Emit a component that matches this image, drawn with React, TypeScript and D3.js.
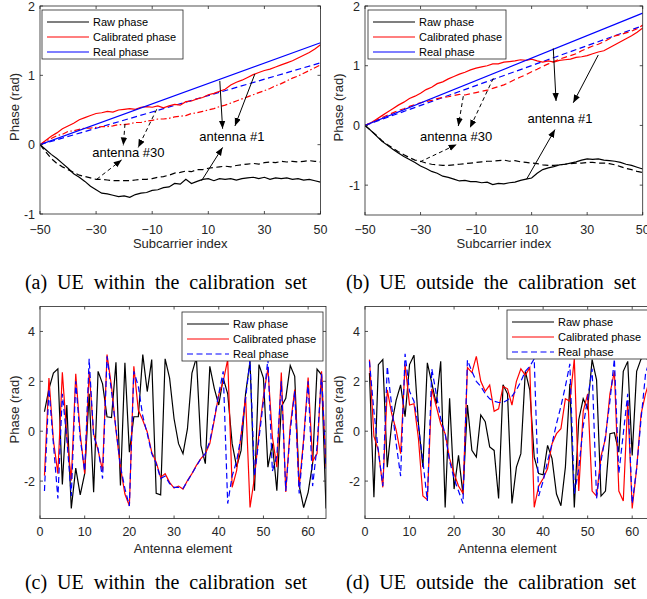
import React, { useEffect, useRef } from 'react';
import * as d3 from 'd3';

// subcarrier index (step 2) and antenna element index
const SUBCARRIERS = d3.range(-50, 51, 2);
const ELEMENTS = d3.range(1, 65);
const REAL_X = [-50, 50];

const SUB_TICKS = [-50, -30, -10, 10, 30, 50];
const ELEM_TICKS = [0, 10, 20, 30, 40, 50, 60];

// (a) UE within the calibration set, phase vs subcarrier
const A_RAW_1 = [0, -0.07, -0.14, -0.2, -0.27, -0.34, -0.42, -0.47, -0.53, -0.6, -0.65, -0.7, -0.71, -0.73, -0.75, -0.74, -0.76, -0.72, -0.7, -0.69, -0.66, -0.65, -0.62, -0.61, -0.56, -0.57, -0.5, -0.56, -0.53, -0.5, -0.49, -0.52, -0.49, -0.5, -0.49, -0.51, -0.49, -0.48, -0.47, -0.49, -0.47, -0.5, -0.48, -0.49, -0.48, -0.5, -0.49, -0.51, -0.5, -0.52, -0.54];
const A_RAW_30 = [0, -0.1, -0.2, -0.27, -0.32, -0.36, -0.4, -0.44, -0.46, -0.48, -0.5, -0.5, -0.51, -0.52, -0.52, -0.52, -0.52, -0.51, -0.5, -0.5, -0.49, -0.47, -0.46, -0.44, -0.41, -0.4, -0.38, -0.39, -0.36, -0.36, -0.34, -0.33, -0.32, -0.31, -0.32, -0.3, -0.29, -0.28, -0.27, -0.28, -0.26, -0.25, -0.26, -0.24, -0.25, -0.24, -0.25, -0.24, -0.23, -0.24, -0.25];
const A_CAL_1 = [0, 0.06, 0.12, 0.17, 0.23, 0.27, 0.31, 0.36, 0.39, 0.42, 0.45, 0.46, 0.48, 0.47, 0.5, 0.51, 0.52, 0.51, 0.54, 0.55, 0.54, 0.56, 0.53, 0.56, 0.58, 0.57, 0.62, 0.63, 0.66, 0.68, 0.72, 0.74, 0.77, 0.8, 0.86, 0.9, 0.93, 0.97, 1.01, 1.04, 1.07, 1.09, 1.12, 1.15, 1.18, 1.21, 1.25, 1.29, 1.33, 1.38, 1.44];
const A_CAL_30 = [0, 0.05, 0.09, 0.13, 0.15, 0.19, 0.2, 0.22, 0.24, 0.24, 0.25, 0.26, 0.26, 0.27, 0.29, 0.29, 0.3, 0.32, 0.32, 0.34, 0.35, 0.37, 0.37, 0.38, 0.4, 0.41, 0.42, 0.45, 0.46, 0.48, 0.5, 0.52, 0.55, 0.57, 0.6, 0.63, 0.66, 0.69, 0.72, 0.75, 0.78, 0.81, 0.85, 0.88, 0.92, 0.96, 0.99, 1.03, 1.07, 1.11, 1.15];
const A_REAL_1 = [0, 1.47];
const A_REAL_30 = [0, 1.18];

// (b) UE outside the calibration set, phase vs subcarrier
const B_RAW_1 = [0, -0.08, -0.17, -0.26, -0.33, -0.4, -0.46, -0.52, -0.57, -0.62, -0.68, -0.72, -0.77, -0.8, -0.85, -0.87, -0.9, -0.93, -0.92, -0.94, -0.94, -0.96, -0.95, -0.99, -0.97, -0.98, -0.96, -0.95, -0.92, -0.9, -0.88, -0.8, -0.74, -0.71, -0.69, -0.66, -0.65, -0.63, -0.61, -0.58, -0.56, -0.57, -0.56, -0.58, -0.59, -0.6, -0.62, -0.65, -0.67, -0.7, -0.73];
const B_RAW_30 = [0, -0.08, -0.16, -0.25, -0.32, -0.38, -0.44, -0.49, -0.54, -0.58, -0.6, -0.63, -0.65, -0.66, -0.67, -0.67, -0.66, -0.65, -0.64, -0.63, -0.62, -0.61, -0.6, -0.6, -0.59, -0.58, -0.6, -0.59, -0.61, -0.62, -0.63, -0.64, -0.66, -0.67, -0.67, -0.66, -0.65, -0.64, -0.63, -0.63, -0.62, -0.62, -0.63, -0.63, -0.64, -0.66, -0.69, -0.72, -0.74, -0.77, -0.79];
const B_CAL_1 = [0, 0.04, 0.1, 0.16, 0.22, 0.28, 0.34, 0.39, 0.45, 0.49, 0.54, 0.6, 0.64, 0.7, 0.73, 0.78, 0.82, 0.86, 0.89, 0.93, 0.96, 0.98, 1.0, 1.03, 1.03, 1.06, 1.07, 1.08, 1.1, 1.09, 1.11, 1.08, 1.06, 1.08, 1.06, 1.09, 1.1, 1.11, 1.14, 1.15, 1.17, 1.2, 1.23, 1.25, 1.3, 1.35, 1.4, 1.45, 1.5, 1.56, 1.63];
const B_CAL_30 = [0, 0.04, 0.08, 0.13, 0.17, 0.21, 0.25, 0.28, 0.32, 0.35, 0.38, 0.4, 0.42, 0.45, 0.47, 0.48, 0.5, 0.52, 0.51, 0.53, 0.55, 0.57, 0.59, 0.62, 0.65, 0.68, 0.72, 0.77, 0.81, 0.85, 0.9, 0.94, 0.99, 1.03, 1.07, 1.11, 1.14, 1.17, 1.2, 1.25, 1.29, 1.33, 1.36, 1.4, 1.45, 1.5, 1.52, 1.55, 1.58, 1.62, 1.68];
const B_REAL_1 = [0, 1.88];
const B_REAL_30 = [0, 1.67];

// (c) UE within the calibration set, phase vs antenna element
const C_RAW = [0.78, 1.7, 2.33, 2.5, -2.14, 1.05, -3.1, -1.48, -2.55, -1.7, 1.5, -2.45, 2.4, 1.9, 0.58, 0.55, 2.76, -2.18, 2.74, -0.84, 0.58, 0.58, 3.07, 1.59, 2.87, -2.49, -2.55, 2.9, 2.13, 0.5, -0.5, -0.9, 0.1, 2.33, 2.95, -0.57, -1.3, 2.6, 1.72, 1.05, 2.13, 1.5, -0.5, -1.43, -0.77, 1.5, 2.8, -2.39, 2.67, 2.13, -1.44, -0.5, -2.39, 0.98, 1.32, 2.63, 2.2, -2.18, -3.06, -2.45, -1.3, 2.49, 2.26, -3.1];
const C_CAL = [-1.78, 2.13, -0.36, -1.7, 2.36, -0.16, -1.98, 2.3, -0.1, -1.7, 2.4, -0.1, -0.77, -1.58, 3.07, 1.8, 0.04, -1.44, -2.52, -2.99, 2.6, 0.85, 0.44, -0.03, -0.84, -1.24, -1.85, -1.7, -2.05, -2.28, -2.2, -2.32, -1.98, -1.7, -1.37, -1.1, -0.9, -0.5, 0.44, 1.46, 2.0, 2.87, -2.25, -1.58, -0.16, 1.39, -3.06, -1.85, -0.1, 1.39, 2.53, -0.23, -1.44, 2.35, -2.44, 0.2, 1.67, -2.25, -0.3, 2.15, -1.2, -0.9, 2.4, -1.44];
const C_REAL = [-2.4, 1.7, -0.5, -2.7, 1.5, -0.3, -2.6, 2.0, -0.3, -1.6, 2.9, -0.2, -0.7, -1.9, 3.0, 1.6, 0.1, -1.4, -2.3, -3.0, 2.4, 1.8, 0.6, -0.1, -0.9, -1.3, -1.9, -1.8, -2.1, -2.25, -2.25, -2.3, -2.0, -1.7, -1.4, -1.1, -0.9, -0.4, 0.5, 1.5, 2.4, -2.9, -1.8, -1.2, -0.2, 1.3, 2.85, -1.8, -0.3, 1.2, 2.9, -1.6, -1.0, 2.0, -2.4, 0.0, 1.6, -2.5, -0.4, 2.0, -2.2, -0.6, 2.3, -1.5];

// (d) UE outside the calibration set, phase vs antenna element
const D_RAW = [2.33, -2.65, 2.67, 2.87, -1.44, 0.3, 1.25, 1.86, 0.58, 2.67, 3.05, 0.3, -1.44, 2.74, 1.93, 1.1, 2.8, -3.06, 1.32, -2.32, -0.97, -2.52, 1.05, -0.77, -1.04, 0.65, 0.38, -0.63, -0.77, -2.7, 1.86, 1.5, -2.9, -1.44, -0.9, 2.4, 1.66, -1.04, -1.7, -1.75, -0.57, -1.1, -2.52, -2.99, -1.44, 1.9, -3.06, 0.46, 1.3, 0.9, 2.87, 2.06, -2.6, -2.4, -0.1, -0.06, -0.84, 2.4, 2.8, -0.97, 2.4, 2.9, 3.0, 2.7];
const D_CAL = [2.87, -0.2, -0.77, -2.25, 1.66, 0.7, 0.04, -0.9, 2.68, 1.05, 1.1, -0.3, -2.6, -2.75, 1.7, 1.0, 0.3, -0.1, -1.1, -1.7, -2.2, -2.5, 2.55, 2.35, 3.0, 2.0, 1.6, 1.85, 0.8, 0.9, 1.8, 1.7, 1.05, 2.0, 2.5, 2.25, 2.55, -3.05, -2.2, -1.9, -1.5, -0.5, -0.1, 0.1, 1.3, 1.2, 2.9, -2.4, 0.8, 1.5, -2.4, -2.6, -1.0, -0.3, 1.5, 2.4, -2.4, -2.8, 1.2, -3.1, -1.5, 0.7, 1.5, 2.1];
const D_REAL = [2.8, 0.8, -0.8, -2.2, 2.6, 1.0, -0.5, -1.8, 3.1, 1.6, 1.2, 0.2, -1.2, -2.8, 2.5, 1.5, 0.5, -0.1, -1.2, -1.9, -2.4, -2.9, 2.85, 2.4, 2.0, 1.8, 1.5, 1.3, 1.2, 1.15, 1.15, 1.25, 1.4, 1.65, 2.0, 2.4, 2.6, 2.9, -2.6, -2.0, -1.2, -0.5, 0.3, 1.0, 1.8, 2.7, -2.5, -1.5, 0.2, 1.3, 2.5, -2.7, -1.2, -0.2, 1.2, 2.9, -1.7, -0.1, 1.5, -2.9, -1.5, 0.5, 2.3, 2.9];

// annotation arrows [x0, y0, x1, y1] in data units
const A_ARROWS_1 = [[14.1, 0.92, 15.1, 0.23], [26.6, 1.02, 19.5, 0.27], [7.6, -0.52, 15.1, -0.04]];
const A_ARROWS_30 = [[-19.7, 0.3, -20.3, -0.01], [-8.4, 0.51, -15, -0.04], [-29.8, -0.5, -20.9, -0.22]];
const B_ARROWS_1 = [[17.8, 1.29, 18.8, 0.41], [34, 1.18, 25, 0.38], [8.2, -0.9, 18.4, -0.07]];
const B_ARROWS_30 = [[-14.6, 0.49, -16.4, -0.01], [-3.8, 0.79, -12.2, -0.04], [-30.2, -0.61, -17, -0.32]];

const LEGEND_LABELS = ['Raw phase', 'Calibrated phase', 'Real phase'];
const CAPTIONS = [
  '(a) UE within the calibration set',
  '(b) UE outside the calibration set',
  '(c) UE within the calibration set',
  '(d) UE outside the calibration set',
];

const BLACK = '#000000';
const RED = '#ff0000';
const BLUE = '#0000ff';
const AXIS = '#262626';
const SANS = '"Liberation Sans", Arial, Helvetica, sans-serif';
const SERIF = '"Liberation Serif", "Times New Roman", serif';
const DASH = '6,3.5';
const DASHDOT = '6,2.5,1.5,2.5';

function drawPanel(svg, p, idx) {
  const x = d3.scaleLinear().domain(p.xDomain).range([p.left, p.right]);
  const y = d3.scaleLinear().domain(p.yDomain).range([p.bottom, p.top]);
  const g = svg.append('g');
  const clipId = `clip-${idx}`;
  g.append('clipPath').attr('id', clipId).append('rect')
    .attr('x', p.left).attr('y', p.top)
    .attr('width', p.right - p.left).attr('height', p.bottom - p.top);

  const line = d3.line().x((d) => x(d[0])).y((d) => y(d[1]));
  const plot = g.append('g').attr('clip-path', `url(#${clipId})`);
  p.series.forEach((s) => {
    plot.append('path')
      .datum(s.values.map((v, i) => [s.xs[i], v]))
      .attr('d', line)
      .attr('fill', 'none')
      .attr('stroke', s.color)
      .attr('stroke-width', 1.2)
      .attr('stroke-dasharray', s.dash || null);
  });

  // box + inward ticks on all four sides
  g.append('rect')
    .attr('x', p.left).attr('y', p.top)
    .attr('width', p.right - p.left).attr('height', p.bottom - p.top)
    .attr('fill', 'none').attr('stroke', AXIS).attr('stroke-width', 0.8);
  const tl = 3;
  p.xTicks.forEach((t) => {
    const px = x(t);
    g.append('line').attr('x1', px).attr('x2', px).attr('y1', p.bottom).attr('y2', p.bottom - tl).attr('stroke', AXIS).attr('stroke-width', 0.8);
    g.append('line').attr('x1', px).attr('x2', px).attr('y1', p.top).attr('y2', p.top + tl).attr('stroke', AXIS).attr('stroke-width', 0.8);
    g.append('text').attr('x', px).attr('y', p.bottom + p.tickGap)
      .attr('text-anchor', 'middle').attr('font-family', SANS).attr('font-size', 12.5)
      .attr('fill', AXIS).text(d3.format('d')(t));
  });
  p.yTicks.forEach((t) => {
    const py = y(t);
    g.append('line').attr('x1', p.left).attr('x2', p.left + tl).attr('y1', py).attr('y2', py).attr('stroke', AXIS).attr('stroke-width', 0.8);
    g.append('line').attr('x1', p.right).attr('x2', p.right - tl).attr('y1', py).attr('y2', py).attr('stroke', AXIS).attr('stroke-width', 0.8);
    g.append('text').attr('x', p.left - 5).attr('y', py + 4.5)
      .attr('text-anchor', 'end').attr('font-family', SANS).attr('font-size', 12.5)
      .attr('fill', AXIS).text(String(t));
  });

  g.append('text')
    .attr('x', (p.left + p.right) / 2).attr('y', p.bottom + p.labelGap)
    .attr('text-anchor', 'middle').attr('font-family', SANS).attr('font-size', 13)
    .attr('fill', AXIS).text(p.xLabel);
  g.append('text')
    .attr('transform', `translate(${p.yLabelX},${(p.top + p.bottom) / 2 - 3}) rotate(-90)`)
    .attr('text-anchor', 'middle').attr('font-family', SANS).attr('font-size', 13)
    .attr('fill', AXIS).text('Phase (rad)');

  // annotations
  (p.notes || []).forEach((n) => {
    n.arrows.forEach((a) => {
      g.append('line')
        .attr('x1', x(a[0])).attr('y1', y(a[1]))
        .attr('x2', x(a[2])).attr('y2', y(a[3]))
        .attr('stroke', BLACK).attr('stroke-width', 1)
        .attr('stroke-dasharray', n.dash || null)
        .attr('marker-end', 'url(#arrowhead)');
    });
    g.append('text')
      .attr('x', x(n.x)).attr('y', y(n.y) + 5)
      .attr('text-anchor', 'middle').attr('font-family', SANS).attr('font-size', 13)
      .attr('fill', BLACK).text(n.text);
  });

  // legend
  const L = p.legend;
  const lg = g.append('g').attr('transform', `translate(${L.x},${L.y})`);
  lg.append('rect').attr('width', L.w).attr('height', 49)
    .attr('fill', '#ffffff').attr('stroke', AXIS).attr('stroke-width', 0.8);
  L.styles.forEach((st, i) => {
    const ly = 12 + i * 15;
    lg.append('line').attr('x1', 5).attr('x2', 47).attr('y1', ly).attr('y2', ly)
      .attr('stroke', st.color).attr('stroke-width', 1.2)
      .attr('stroke-dasharray', st.dash || null);
    lg.append('text').attr('x', 51).attr('y', ly + 4)
      .attr('font-family', SANS).attr('font-size', 11).attr('fill', BLACK)
      .text(LEGEND_LABELS[i]);
  });
}

export default function App() {
  const ref = useRef(null);

  useEffect(() => {
    const el = ref.current;
    d3.select(el).selectAll('*').remove();
    const svg = d3.select(el).append('svg')
      .attr('width', 647).attr('height', 599)
      .style('display', 'block').style('background', '#ffffff');

    svg.append('defs').append('marker')
      .attr('id', 'arrowhead').attr('viewBox', '0 0 10 10')
      .attr('refX', 10).attr('refY', 5)
      .attr('markerWidth', 8).attr('markerHeight', 8)
      .attr('markerUnits', 'userSpaceOnUse')
      .attr('orient', 'auto')
      .append('path').attr('d', 'M0,1 L10,5 L0,9 Z').attr('fill', BLACK);

    const topLegend = [{ color: BLACK }, { color: RED }, { color: BLUE }];
    const lowLegend = [{ color: BLACK }, { color: RED }, { color: BLUE, dash: DASH }];

    const panels = [
      {
        left: 40, right: 320.5, top: 6, bottom: 214,
        xDomain: [-50, 50], yDomain: [-1, 2],
        xTicks: SUB_TICKS, yTicks: [-1, 0, 1, 2],
        xLabel: 'Subcarrier index', yLabelX: 19, tickGap: 20, labelGap: 34,
        series: [
          { xs: REAL_X, values: A_REAL_30, color: BLUE, dash: DASH },
          { xs: SUBCARRIERS, values: A_CAL_30, color: RED, dash: DASHDOT },
          { xs: SUBCARRIERS, values: A_RAW_30, color: BLACK, dash: DASH },
          { xs: SUBCARRIERS, values: A_RAW_1, color: BLACK },
          { xs: SUBCARRIERS, values: A_CAL_1, color: RED },
          { xs: REAL_X, values: A_REAL_1, color: BLUE },
        ],
        notes: [
          { text: 'antenna #1', x: 18.4, y: 0.13, arrows: A_ARROWS_1 },
          { text: 'antenna #30', x: -18.5, y: -0.11, arrows: A_ARROWS_30, dash: '4,3' },
        ],
        legend: { x: 42, y: 10, w: 141, styles: topLegend },
      },
      {
        left: 365, right: 642.7, top: 6, bottom: 215,
        xDomain: [-50, 50], yDomain: [-1.5, 2],
        xTicks: SUB_TICKS, yTicks: [-1, 0, 1, 2],
        xLabel: 'Subcarrier index', yLabelX: 343, tickGap: 19, labelGap: 33,
        series: [
          { xs: REAL_X, values: B_REAL_30, color: BLUE, dash: DASH },
          { xs: SUBCARRIERS, values: B_CAL_30, color: RED, dash: DASH },
          { xs: SUBCARRIERS, values: B_RAW_30, color: BLACK, dash: DASH },
          { xs: SUBCARRIERS, values: B_RAW_1, color: BLACK },
          { xs: SUBCARRIERS, values: B_CAL_1, color: RED },
          { xs: REAL_X, values: B_REAL_1, color: BLUE },
        ],
        notes: [
          { text: 'antenna #1', x: 20.2, y: 0.13, arrows: B_ARROWS_1 },
          { text: 'antenna #30', x: -17.2, y: -0.18, arrows: B_ARROWS_30, dash: '4,3' },
        ],
        legend: { x: 368, y: 10, w: 138, styles: topLegend },
      },
      {
        left: 40, right: 326, top: 306.5, bottom: 518.5,
        xDomain: [0, 64], yDomain: [-3.5, 5],
        xTicks: ELEM_TICKS, yTicks: [-2, 0, 2, 4],
        xLabel: 'Antenna element', yLabelX: 19, tickGap: 17.5, labelGap: 34,
        series: [
          { xs: ELEMENTS, values: C_RAW, color: BLACK },
          { xs: ELEMENTS, values: C_CAL, color: RED },
          { xs: ELEMENTS, values: C_REAL, color: BLUE, dash: DASH },
        ],
        legend: { x: 182, y: 312, w: 141, styles: lowLegend },
      },
      {
        left: 365, right: 650, top: 306.5, bottom: 518.5,
        xDomain: [0, 64], yDomain: [-3.5, 5],
        xTicks: ELEM_TICKS, yTicks: [-2, 0, 2, 4],
        xLabel: 'Antenna element', yLabelX: 343, tickGap: 17.5, labelGap: 34,
        series: [
          { xs: ELEMENTS, values: D_RAW, color: BLACK },
          { xs: ELEMENTS, values: D_CAL, color: RED },
          { xs: ELEMENTS, values: D_REAL, color: BLUE, dash: DASH },
        ],
        legend: { x: 507, y: 310, w: 142, styles: lowLegend },
      },
    ];

    panels.forEach((p, i) => drawPanel(svg, p, i));

    const capPos = [[166, 289], [491, 289], [166, 589], [491, 589]];
    CAPTIONS.forEach((c, i) => {
      svg.append('text')
        .attr('x', capPos[i][0]).attr('y', capPos[i][1])
        .attr('text-anchor', 'middle').attr('font-family', SERIF)
        .attr('font-size', 20).attr('word-spacing', 5)
        .attr('fill', BLACK).text(c);
    });
  }, []);

  return (
    <div style={{ position: 'absolute', left: 0, top: 0, width: 647, height: 599, overflow: 'hidden' }}>
      <div ref={ref} />
    </div>
  );
}
